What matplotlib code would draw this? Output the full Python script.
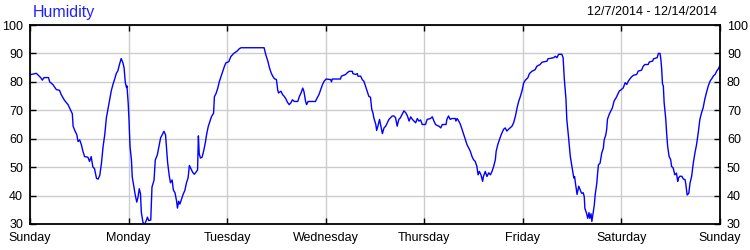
import matplotlib
matplotlib.use("Agg")
from matplotlib import pyplot as plt

# hours since Sunday 0:00, humidity %
hours = [0, 1.54, 2.6, 3.0, 3.4, 4.5, 4.8, 5.6, 6.4, 7.2, 7.6, 8.4, 9.25, 9.9, 10.3, 10.5,
         10.9, 11.4, 11.7, 12.1, 12.5, 12.9, 13.3, 14.1, 14.5, 14.9, 15.3, 15.7, 16.2, 16.6,
         17.0, 17.4, 17.8, 18.2, 18.6, 19.0, 19.4, 19.8, 20.2, 20.6, 21.0, 21.4, 21.8, 22.2,
         22.6, 22.9, 23.2, 23.5, 23.6, 23.9, 24.1, 24.35, 24.7, 24.9, 25.3, 25.65, 26.0, 26.3,
         26.6, 26.9, 27.1, 27.5, 27.9, 28.3, 28.6, 28.9, 29.4, 29.7, 30.2, 30.5, 31.0, 31.4,
         31.8, 32.2, 32.6, 33.0,
         33.5, 33.9, 34.2, 34.6, 34.9, 35.3, 35.7, 35.9, 36.2, 36.5, 36.9, 37.3, 37.7, 38.1,
         38.5, 38.8, 39.2, 39.6, 40.0, 40.4, 40.8, 41.0, 41.2, 41.5, 41.9, 42.3, 42.7, 43.0,
         43.4, 43.8, 44.2, 44.7, 44.9, 45.3, 45.7, 46.1, 46.5, 46.9, 47.3, 47.7, 48.4, 48.9,
         49.6, 50.4, 51.0, 51.4, 57.0, 57.4, 57.9, 58.3, 58.7, 59.1, 59.5, 60.0, 60.3, 60.5,
         61.1, 61.5, 61.9, 62.3, 62.7, 63.1, 63.5, 63.9, 64.35, 65.2, 65.6, 66.0, 66.4,
         66.7, 67.1, 67.35, 67.7, 69.5, 69.9, 70.35, 70.8, 71.2, 71.6, 72.1, 73.2, 73.4, 73.6,
         75.6, 75.8, 76.85, 77.25, 77.7, 78.5, 78.6, 79.3, 79.7, 79.85, 80.5, 80.9, 81.3, 81.7,
         82.1, 82.5, 82.9, 83.2, 83.5, 83.7, 84.2, 84.4, 84.7, 85.1, 85.4, 85.8, 86.2, 86.6,
         87.0, 87.4, 87.8, 88.2, 88.6, 89.0, 89.4, 89.8, 90.2, 90.6, 91.05, 91.5, 91.9, 92.3,
         92.7, 93.1, 93.5, 93.9, 94.3, 94.7, 95.1, 95.5, 96.3, 96.7, 97.5, 97.95, 98.35, 98.75,
         99.2, 99.6, 100.0, 100.4, 100.8,
         101.3, 101.5, 101.9, 102.3, 102.7, 103.55, 103.7, 104.0, 104.4, 104.8, 105.2, 105.6,
         106.0, 106.4, 106.8, 107.2, 107.6, 108.0, 108.4, 108.8, 109.1, 109.4, 109.8, 110.2,
         110.4, 110.85, 111.25, 111.7, 112.1, 112.5, 112.9, 113.3, 113.5, 113.9, 114.3, 114.75,
         115.3, 115.7, 116.1, 116.5, 116.9, 117.35, 117.75, 118.2, 118.6, 119.0, 119.4, 119.8,
         120.2, 120.6, 121.2, 121.6, 122.2, 123.0, 123.4, 124.2, 124.65, 125.9, 126.1, 127.5,
         127.9, 128.3, 128.7, 129.5, 129.8, 130.1, 130.5, 130.7, 131.1, 131.55, 131.95, 132.4,
         132.6, 132.8, 133.2, 133.6,
         134.3, 134.7, 134.95, 135.1, 135.5, 135.8, 136.1, 136.3, 136.6, 136.8, 137.1, 137.4,
         137.6, 138.0, 138.2, 138.4, 138.8, 139.2, 139.6, 139.8, 140.2, 140.4, 140.6, 141.0,
         141.4, 141.8, 142.2, 142.7, 143.1, 143.5, 144.0, 144.45, 144.9, 145.3, 145.7, 146.1,
         146.5, 146.9, 147.7, 148.1, 148.9, 149.3, 149.7, 150.5, 150.8, 151.6, 151.8, 152.7,
         153.0, 153.4, 153.6, 153.8, 154.0, 154.2, 154.4, 154.8, 155.0, 155.25, 155.6, 156.0,
         156.2, 156.6, 157.0, 157.4, 157.7, 157.9, 158.25, 158.7, 159.1, 159.5, 159.7, 160.0,
         160.4, 160.7, 161.1, 161.5, 161.9, 162.3, 162.7, 163.1, 163.5, 163.9, 164.3, 164.7,
         165.15, 165.6, 166.0, 166.4, 166.8, 167.2, 167.6, 168.0]
humidity = [82.5, 83, 81.5, 80.6, 81.5, 81.5, 80, 79, 77.3, 77, 75.5, 73.5, 72, 70, 68.8, 64.4,
            62.9, 61.4, 59, 59.6, 57.9, 55.5, 53.7, 53.5, 52, 53.7, 50.1, 49.5, 46, 45.8,
            47.2, 51.4, 57.3, 61.4, 67.4, 70.6, 73.9, 76.9, 79.1, 80.9, 82.9, 83.9, 86.2, 88.2,
            86.8, 85, 79.8, 78, 78.6, 72.7, 66.8, 57.3, 52.5, 46.5, 43, 40, 37.7, 39.5,
            42.4, 40.7, 34.2, 30.6, 29.8, 31.2, 32.4, 31.2, 31.4, 43, 45.4, 52.5, 54.3, 57.3,
            60.3, 61.4, 62.6, 61.4,
            51.7, 47, 44.5, 45.5, 42, 41, 38, 35.6, 38, 37, 38.8, 40.5, 41.8, 44.5,
            46.3, 50.6, 49.4, 48.2, 47.5, 48.2, 49, 61, 54.7, 53.2, 53.5, 55.8, 58.7, 61.5,
            64.3, 66.1, 67.8, 69, 74.8, 75.9, 77.7, 80.1, 81.8, 83.6, 85.3, 86.7, 87.1, 88.9,
            90, 90.8, 91.7, 92, 92, 89.6, 87.3, 85, 83.2, 82, 81.1, 80.8, 77.3, 76.1,
            76.7, 75.5, 74.9, 74, 72.8, 72, 72.6, 73.7, 73.1, 73.1, 74.9, 76.1, 77.8,
            76.6, 73.1, 72, 73.1, 73.1, 74.3, 75.5, 77.3, 79, 80.2, 81, 80.8, 80, 81,
            81, 82, 82.6, 83.2, 83.7, 83.7, 82.9, 82.6, 82.9, 82, 82, 80.8, 80.2, 78.4,
            76.6, 74.9, 74.6, 70.4, 69.1, 67.4, 65, 62.9, 64.4, 66.8, 64.6, 61.8, 63.8, 64.4,
            65.6, 66.8, 67.4, 68, 68, 67.4, 64.4, 66.8, 67.4, 68.6, 69.8, 69.1, 68, 66.2,
            67.7, 66.8, 66.2, 65.6, 67.1, 66.2, 66.6, 65, 65, 66.8, 67.1, 67.7, 66.2, 65,
            64.6, 64.4, 63.8, 65, 65,
            65, 66.8, 68, 66.8, 67.1, 67.1, 66.2, 67.1, 66.2, 65, 63.3, 61.5,
            59.7, 57.9, 56.8, 55.6, 53.8, 52.6, 52, 50.3, 47.3, 48.5, 47.3, 45,
            46.7, 48.5, 46.7, 48, 47.3, 48.5, 50.3, 52.6, 55.6, 57.9, 59.7, 61.5,
            63.3, 63.8, 62.7, 63.3, 63.8, 64.4, 65.6, 68, 70.9, 73.2, 74.9, 76.9,
            79.6, 80.6, 81.4, 82.9, 83.7, 84.3, 85.5, 86.1, 86.9, 87.3, 88.1, 88.5,
            89, 88.5, 89.7, 89.7, 88.5, 80.9, 73.9, 66.8, 60.9, 53.8, 50.3, 46.2,
            46.7, 44.4, 40.4, 43.3,
            40.8, 41, 39.6, 35.5, 33.8, 32, 34, 32, 33.6, 30.9, 33.8, 36.7,
            40.2, 44.3, 47.8, 50.8, 51.4, 54.9, 56.7, 59.6, 61.4, 63.2, 66.8, 68.5,
            69.7, 70.9, 73.2, 74.4, 75.6, 76.8, 77.3, 77.9, 79.7, 79.1, 80.3, 81.1,
            81.8, 82.3, 82.6, 83.8, 84.1, 85.5, 86.1, 86.1, 87, 87.3, 88.1, 88.5,
            90, 90, 88, 84.5, 79.2, 78.6, 72.7, 66.8, 62.1, 57.4, 53.8, 52.6,
            50.3, 49.7, 47.3, 47.9, 45, 46.2, 46.8, 46.8, 45.8, 45.6, 43.8, 40.2,
            40.8, 44.4, 46.8, 51.5, 55, 58, 62.1, 66.8, 69.1, 70.9, 73.9, 76.2,
            78.6, 80.3, 81.1, 82.1, 82.6, 83.8, 84.6, 85.8]

day_ticks = [0, 24, 48, 72, 96, 120, 144, 168]
day_labels = ['Sunday', 'Monday', 'Tuesday', 'Wednesday', 'Thursday', 'Friday', 'Saturday', 'Sunday']
y_ticks = [30, 40, 50, 60, 70, 80, 90, 100]

plt.rcParams['font.family'] = ['Liberation Sans', 'DejaVu Sans']

fig = plt.figure(figsize=(7.5, 2.5), dpi=100)
ax = fig.add_axes([0.04, 0.104, 0.92, 0.796])

ax.plot(hours, humidity, color='#0000ff', linewidth=1.0)

ax.set_xlim(0, 168)
ax.set_ylim(30, 100)
ax.set_xticks(day_ticks)
ax.set_xticklabels(day_labels)
ax.set_yticks(y_ticks)
ax.grid(True, color='#cccccc', linewidth=1)
ax.set_axisbelow(True)
ax.tick_params(direction='in', length=4, width=1, labelsize=9,
               top=True, right=True, labelright=True)
ax.tick_params(axis='x', pad=6)
ax.tick_params(axis='y', pad=5)
for s in ax.spines.values():
    s.set_linewidth(1.3)

fig.text(33 / 750, 1 - 13 / 250, 'Humidity', color='#2020ff', fontsize=11.5, va='center', ha='left')
fig.text(717 / 750, 1 - 12 / 250, '12/7/2014 - 12/14/2014', color='black', fontsize=9, va='center', ha='right')

fig.savefig('out.png', dpi=100)
